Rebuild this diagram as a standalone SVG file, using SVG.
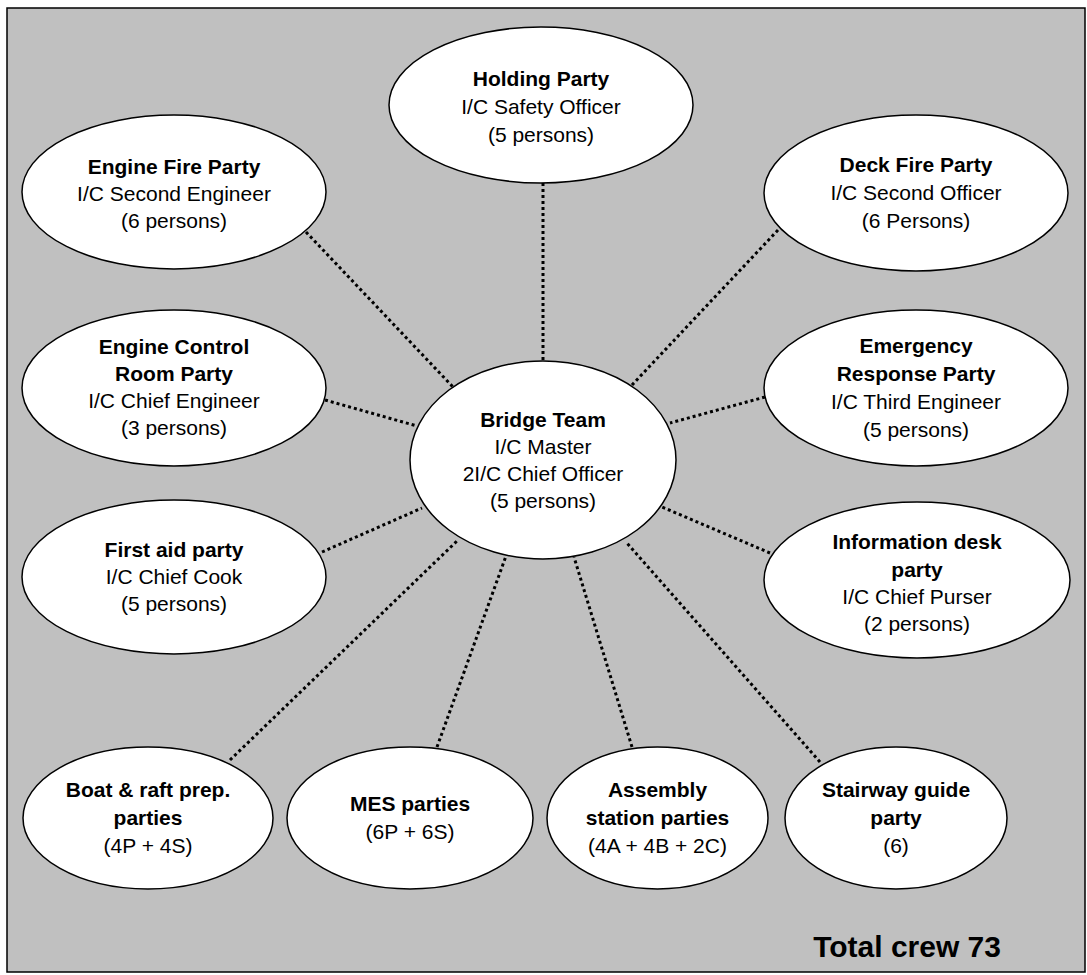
<svg xmlns="http://www.w3.org/2000/svg" width="1087" height="975" viewBox="0 0 1087 975">
<style>
.bg{fill:#c0c0c0;stroke:#000;stroke-width:1.5}
.node ellipse{fill:#fff;stroke:#000;stroke-width:1.5}
text{font-family:"Liberation Sans",Arial,sans-serif;font-size:21px;fill:#000;text-anchor:middle}
.b{font-weight:bold}
.links line{stroke:#000;stroke-width:3;stroke-dasharray:3 3}
.total{font-size:30px;font-weight:bold;text-anchor:end}
</style>
<rect class="bg" x="7" y="8" width="1078" height="964"/>
<g class="links">
<line x1="543" y1="183" x2="543" y2="361"/>
<line x1="306" y1="232" x2="453" y2="387"/>
<line x1="778" y1="230" x2="632" y2="385"/>
<line x1="325" y1="400" x2="417" y2="426"/>
<line x1="765" y1="397" x2="670" y2="423"/>
<line x1="322" y1="552" x2="422" y2="508"/>
<line x1="770" y1="553" x2="662" y2="507"/>
<line x1="230" y1="760" x2="457" y2="541"/>
<line x1="437" y1="747" x2="506" y2="556"/>
<line x1="632" y1="747" x2="574" y2="557"/>
<line x1="820" y1="762" x2="626" y2="542"/>
</g>
<g id="holding" class="node">
<ellipse cx="541" cy="105" rx="152" ry="78"/>
<text x="541" y="86" class="b">Holding Party</text>
<text x="541" y="114">I/C Safety Officer</text>
<text x="541" y="142">(5 persons)</text>
</g>
<g id="engine-fire" class="node">
<ellipse cx="174" cy="192" rx="152" ry="77"/>
<text x="174" y="174" class="b">Engine Fire Party</text>
<text x="174" y="201">I/C Second Engineer</text>
<text x="174" y="228">(6 persons)</text>
</g>
<g id="deck-fire" class="node">
<ellipse cx="916" cy="193" rx="152" ry="78"/>
<text x="916" y="172" class="b">Deck Fire Party</text>
<text x="916" y="200">I/C Second Officer</text>
<text x="916" y="228">(6 Persons)</text>
</g>
<g id="engine-control" class="node">
<ellipse cx="174" cy="388" rx="152" ry="78"/>
<text x="174" y="354" class="b">Engine Control</text>
<text x="174" y="381" class="b">Room Party</text>
<text x="174" y="408">I/C Chief Engineer</text>
<text x="174" y="435">(3 persons)</text>
</g>
<g id="emergency-response" class="node">
<ellipse cx="916" cy="388" rx="152" ry="78"/>
<text x="916" y="353" class="b">Emergency</text>
<text x="916" y="381" class="b">Response Party</text>
<text x="916" y="409">I/C Third Engineer</text>
<text x="916" y="437">(5 persons)</text>
</g>
<g id="bridge" class="node">
<ellipse cx="543" cy="460" rx="133" ry="99"/>
<text x="543" y="427" class="b">Bridge Team</text>
<text x="543" y="454">I/C Master</text>
<text x="543" y="481">2I/C Chief Officer</text>
<text x="543" y="508">(5 persons)</text>
</g>
<g id="first-aid" class="node">
<ellipse cx="174" cy="577" rx="152" ry="77"/>
<text x="174" y="557" class="b">First aid party</text>
<text x="174" y="584">I/C Chief Cook</text>
<text x="174" y="611">(5 persons)</text>
</g>
<g id="information-desk" class="node">
<ellipse cx="917" cy="580" rx="153" ry="78"/>
<text x="917" y="549" class="b">Information desk</text>
<text x="917" y="577" class="b">party</text>
<text x="917" y="604">I/C Chief Purser</text>
<text x="917" y="631">(2 persons)</text>
</g>
<g id="boat-raft" class="node">
<ellipse cx="148" cy="818" rx="125" ry="71"/>
<text x="148" y="797" class="b">Boat &amp; raft prep.</text>
<text x="148" y="825" class="b">parties</text>
<text x="148" y="853">(4P + 4S)</text>
</g>
<g id="mes" class="node">
<ellipse cx="410" cy="818" rx="123" ry="71"/>
<text x="410" y="811" class="b">MES parties</text>
<text x="410" y="839">(6P + 6S)</text>
</g>
<g id="assembly" class="node">
<ellipse cx="657.5" cy="818" rx="110.5" ry="71"/>
<text x="657.5" y="797" class="b">Assembly</text>
<text x="657.5" y="825" class="b">station parties</text>
<text x="657.5" y="853">(4A + 4B + 2C)</text>
</g>
<g id="stairway" class="node">
<ellipse cx="896" cy="818" rx="111" ry="71"/>
<text x="896" y="797" class="b">Stairway guide</text>
<text x="896" y="825" class="b">party</text>
<text x="896" y="853">(6)</text>
</g>
<text class="total" x="1001" y="957">Total crew 73</text>
</svg>
